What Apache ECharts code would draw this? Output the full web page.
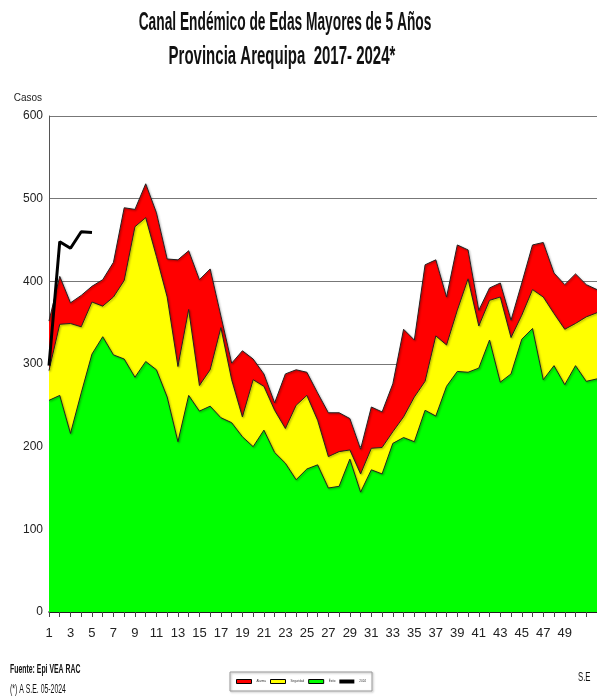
<!DOCTYPE html>
<html lang="es">
  <head>
    <meta charset="UTF-8" />
    <title>Canal Endémico de Edas Mayores de 5 Años</title>
    <script src="https://cdn.jsdelivr.net/npm/echarts@6/dist/echarts.min.js"></script>
    <style>
      html, body { margin: 0; padding: 0; background: #fff; }
      #main { width: 597px; height: 698px; }
    </style>
  </head>
  <body>
    <div id="main"></div>
    <script>
      // semanas epidemiologicas 1..52
      var semanas = [];
      for (var i = 1; i <= 52; i++) semanas.push(String(i));

      // limite superior de cada zona
      var exito = [256, 262, 216, 265, 312, 333, 311, 306, 284, 303, 293, 260, 206,
        262, 243, 249, 235, 229, 212, 200, 220, 193, 180, 160, 173, 178, 150, 152,
        185, 145, 172, 167, 204, 211, 206, 244, 237, 273, 291, 290, 295, 329, 278,
        288, 330, 343, 281, 298, 275, 298, 279, 282];
      var seguridad = [292, 348, 349, 345, 375, 370, 381, 401, 466, 477, 430, 381,
        297, 366, 274, 293, 344, 281, 236, 281, 273, 244, 222, 250, 262, 232, 188,
        194, 196, 167, 198, 199, 218, 236, 260, 279, 334, 323, 365, 403, 346, 377,
        381, 332, 359, 390, 381, 361, 342, 349, 357, 362];
      var alarma = [352, 406, 374, 383, 394, 402, 423, 489, 487, 518, 483, 427, 426,
        437, 402, 415, 358, 301, 316, 306, 288, 253, 288, 293, 290, 265, 241, 241,
        234, 197, 248, 242, 276, 342, 329, 420, 426, 381, 444, 438, 365, 392, 398,
        353, 398, 444, 447, 410, 396, 409, 396, 390];
      var casos2024 = [298, 448, 440, 460, 459];

      var fuente = "'Liberation Sans', Arial, sans-serif";
      var borde = { color: "#222", width: 1, shadowColor: "rgba(0,0,0,0.45)", shadowBlur: 2, shadowOffsetX: 1, shadowOffsetY: 1 };

      // texto angosto (el original usa una letra muy condensada)
      function texto(str, x, y, size, sx, bold, align) {
        return {
          type: "text",
          x: x,
          y: y,
          scaleX: sx,
          style: {
            text: str,
            x: 0,
            y: 0,
            fontSize: size,
            fontWeight: bold ? "bold" : "normal",
            fontFamily: fuente,
            fill: "#111",
            align: align || "left",
            verticalAlign: "middle"
          }
        };
      }

      var chart = echarts.init(document.getElementById("main"));

      chart.setOption({
        animation: false,
        legend: {
          left: 230,
          top: 672,
          padding: [7, 6, 7, 6],
          itemGap: 4,
          itemWidth: 15,
          itemHeight: 4,
          borderColor: "#999",
          borderWidth: 1,
          shadowColor: "rgba(0,0,0,0.3)",
          shadowBlur: 2,
          shadowOffsetX: 1,
          shadowOffsetY: 1,
          textStyle: { fontSize: 3, color: "#333", fontFamily: fuente },
          data: [
            { name: "Alarma", icon: "rect", itemStyle: { color: "#ff0000", borderColor: "#000", borderWidth: 1 } },
            { name: "Seguridad", icon: "rect", itemStyle: { color: "#ffff00", borderColor: "#000", borderWidth: 1 } },
            { name: "Éxito", icon: "rect", itemStyle: { color: "#00ff00", borderColor: "#000", borderWidth: 1 } },
            { name: "2024", icon: "rect", itemStyle: { color: "#000" } }
          ]
        },
        grid: { left: 49, right: -16, top: 116, bottom: 86 },
        xAxis: {
          type: "category",
          data: semanas,
          boundaryGap: false,
          axisLine: { lineStyle: { color: "#000", width: 1.5 } },
          axisTick: { show: true, length: 5, interval: 0, lineStyle: { color: "#444" } },
          axisLabel: {
            interval: function (idx) { return idx % 2 === 0 && idx < 50; },
            margin: 15,
            fontSize: 13,
            fontFamily: fuente,
            color: "#222"
          },
          splitLine: { show: false }
        },
        yAxis: {
          type: "value",
          min: 0,
          max: 600,
          interval: 100,
          name: "Casos",
          nameLocation: "end",
          nameGap: 13,
          nameTextStyle: { fontSize: 10, fontFamily: fuente, color: "#222", align: "right", padding: [0, 7, 0, 0] },
          axisLine: { show: true, lineStyle: { color: "#555", width: 1 } },
          axisTick: { show: false },
          axisLabel: { margin: 6, fontSize: 12, fontFamily: fuente, color: "#222" },
          splitLine: { show: true, lineStyle: { color: "#777", width: 1 } }
        },
        series: [
          {
            name: "Alarma",
            type: "line",
            data: alarma,
            symbol: "none",
            lineStyle: borde,
            itemStyle: { color: "#ff0000" },
            areaStyle: { color: "#ff0000", opacity: 1 }
          },
          {
            name: "Seguridad",
            type: "line",
            data: seguridad,
            symbol: "none",
            lineStyle: borde,
            itemStyle: { color: "#ffff00" },
            areaStyle: { color: "#ffff00", opacity: 1 }
          },
          {
            name: "Éxito",
            type: "line",
            data: exito,
            symbol: "none",
            lineStyle: borde,
            itemStyle: { color: "#00ff00" },
            areaStyle: { color: "#00ff00", opacity: 1 }
          },
          {
            name: "2024",
            type: "line",
            data: casos2024,
            symbol: "none",
            z: 5,
            itemStyle: { color: "#000" },
            lineStyle: { color: "#000", width: 3 }
          }
        ],
        graphic: [
          texto("Canal Endémico de Edas Mayores de 5 Años", 285, 23, 25, 0.55, true, "center"),
          texto("Provincia Arequipa  2017- 2024*", 282, 57, 25, 0.6, true, "center"),
          texto("Fuente: Epi VEA RAC", 10, 669, 13, 0.53, true),
          texto("(*) A S.E. 05-2024", 10, 689, 13, 0.53, false),
          texto("S.E", 578, 677, 13, 0.6, false)
        ]
      });
    </script>
  </body>
</html>
